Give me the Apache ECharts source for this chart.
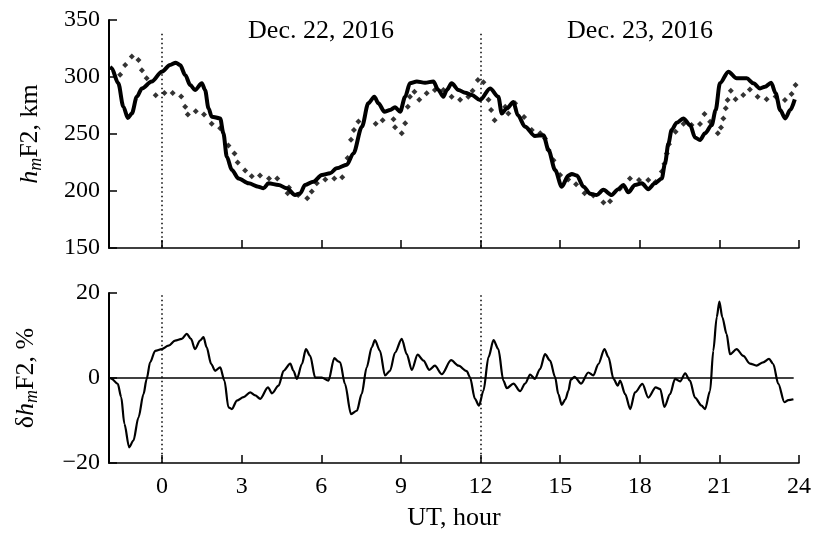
<!DOCTYPE html>
<html>
<head>
<meta charset="utf-8">
<script src="https://cdn.jsdelivr.net/npm/echarts@6/dist/echarts.min.js"></script>
<style>
	html, body { margin: 0; padding: 0; background: #fff; }
	#chart { width: 814px; height: 534px; }
</style>
</head>
<body>
<div id="chart"></div>
<script>
// ************************ data ************************
// hour (UT) from the start of Dec. 22; hmF2 in km, observed (solid)
var hmSolid = [
	[-1.96, 309], [-1.90, 307.6], [-1.65, 294.5], [-1.46, 274], [-1.29, 264], [-1.14, 268],
	[-0.95, 282.7], [-0.76, 290], [-0.39, 296], [-0.01, 304.7], [0.30, 310.5], [0.52, 312.6],
	[0.68, 310.5], [0.87, 301.8], [1.06, 293], [1.24, 288.6], [1.50, 294.5], [1.62, 288.6],
	[1.75, 272.5], [1.87, 265.2], [2.19, 263.7], [2.31, 250.6], [2.44, 230], [2.63, 218.4],
	[2.88, 211], [3.26, 206.7], [3.63, 203.8], [3.82, 202.4], [4.01, 206.7], [4.39, 205.3],
	[4.70, 202.4], [5.01, 196.5], [5.20, 197.9], [5.39, 205.3], [5.70, 208.2], [6.02, 214],
	[6.33, 215.5], [6.58, 220], [6.96, 223], [7.21, 233], [7.53, 256.4], [7.77, 276.9],
	[8.00, 282.7], [8.15, 276.9], [8.38, 269.6], [8.59, 271], [8.78, 273.4], [8.97, 269.6],
	[9.16, 282.7], [9.34, 294.5], [9.60, 296], [9.91, 295], [10.22, 296], [10.41, 288.6],
	[10.60, 282.7], [10.73, 288.6], [10.91, 294.5], [11.17, 288.6], [11.42, 286.2], [11.67, 284.2],
	[11.98, 279.8], [12.36, 290], [12.67, 282.7], [12.80, 268], [12.99, 272.5], [13.24, 278],
	[13.40, 266.7], [13.68, 256.4], [14.05, 248.2], [14.37, 249], [14.56, 236], [14.81, 218.4],
	[15.06, 203.8], [15.31, 213.5], [15.44, 215], [15.63, 213.5], [15.88, 203.8], [16.13, 197.6],
	[16.38, 196.5], [16.63, 201], [16.94, 196.5], [17.19, 201.6], [17.38, 205.3], [17.57, 198.8],
	[17.82, 205.3], [18.08, 206.7], [18.32, 201.6], [18.57, 206.7], [18.83, 211], [18.95, 224.2],
	[19.08, 241.7], [19.20, 253.5], [19.39, 259.8], [19.64, 263.7], [19.90, 257.8], [20.08, 247],
	[20.27, 244.7], [20.46, 250.6], [20.71, 257.8], [20.86, 271], [21.02, 294.5], [21.34, 304.7],
	[21.65, 298.8], [22.03, 298.8], [22.28, 294.5], [22.53, 290], [22.72, 291.5], [22.95, 295],
	[23.12, 285.7], [23.29, 271], [23.48, 263.7], [23.67, 271], [23.84, 280.4]
];
// hmF2 in km, model (dots)
var hmDots = [
	[-1.58, 302], [-1.39, 310.5], [-1.14, 318], [-0.89, 315], [-0.76, 306], [-0.58, 299],
	[-0.24, 284], [0.09, 286], [0.40, 286], [0.72, 283], [0.87, 274], [0.97, 267],
	[1.27, 270], [1.58, 267], [1.87, 259], [2.19, 255], [2.50, 240], [2.73, 233],
	[2.85, 225], [3.13, 218], [3.38, 213], [3.69, 213.5], [4.03, 211], [4.34, 211],
	[4.73, 198], [4.78, 203], [5.13, 196.5], [5.47, 193.6], [5.64, 199.5], [5.83, 206.7],
	[6.15, 210], [6.49, 211], [6.79, 212], [6.99, 229], [7.12, 245], [7.23, 253.5],
	[7.40, 261], [8.05, 259], [8.31, 262], [8.72, 263], [8.78, 256], [9.03, 250.6],
	[9.16, 259.4], [9.26, 274], [9.34, 282.7], [9.51, 287], [9.69, 280], [9.97, 285.7],
	[10.28, 288.6], [10.60, 288.6], [10.91, 282.7], [11.23, 280], [11.54, 282.7], [11.70, 288],
	[11.90, 297.4], [12.11, 295.3], [12.30, 280], [12.40, 271], [12.53, 262], [12.93, 274],
	[13.05, 268], [13.30, 277], [13.64, 265], [13.93, 253.5], [14.25, 250.6], [14.43, 246],
	[14.56, 236], [14.75, 227], [15.00, 214], [15.30, 210], [15.60, 206], [15.92, 198],
	[16.25, 196], [16.63, 190], [16.88, 191], [17.25, 202], [17.63, 211], [17.97, 209.6],
	[18.32, 209.6], [18.60, 208], [18.83, 217], [18.93, 224], [19.02, 233], [19.10, 241],
	[19.35, 252], [19.65, 259], [19.95, 258], [20.27, 258.8], [20.44, 267.6], [20.65, 260.8],
	[20.94, 250.6], [21.06, 255.8], [21.15, 263.7], [21.24, 272.5], [21.31, 279.8], [21.43, 287.9],
	[21.61, 280.4], [21.90, 284.2], [22.15, 289], [22.44, 282.7], [22.78, 280.4], [23.12, 283],
	[23.47, 279.8], [23.72, 285], [23.87, 293]
];
// deviation dhmF2 in %
var dhm = [
	[-1.96, 0], [-1.90, -0.2], [-1.67, -1.4], [-1.54, -4.5], [-1.42, -10.8], [-1.24, -16.3],
	[-1.08, -14.7], [-0.89, -9.3], [-0.70, -3.8], [-0.58, -0.2], [-0.45, 3.7], [-0.26, 6.4],
	[-0.01, 6.8], [0.24, 7.6], [0.49, 8.8], [0.74, 9.2], [0.93, 10.4], [1.09, 9.2],
	[1.24, 6.8], [1.43, 8.8], [1.56, 9.6], [1.68, 7.2], [1.85, 3.3], [2.00, 1.7],
	[2.19, 2.5], [2.35, -0.6], [2.50, -6.9], [2.63, -7.3], [2.82, -5.3], [3.07, -4.5],
	[3.32, -3.4], [3.51, -4.1], [3.70, -4.9], [3.99, -2.2], [4.14, -3.6], [4.39, -1.8],
	[4.58, 1.7], [4.83, 3.4], [4.95, 1.7], [5.08, -0.2], [5.27, 3.3], [5.42, 6.8],
	[5.58, 5.2], [5.77, 0.1], [6.02, 0.1], [6.27, -0.6], [6.49, 4.7], [6.64, 3.9],
	[6.71, 3.7], [6.89, -1.4], [7.12, -8.5], [7.34, -7.7], [7.52, -3.8], [7.71, 2.5],
	[7.90, 7.2], [8.02, 8.9], [8.21, 6.4], [8.40, 0.6], [8.59, 1.7], [8.78, 6.0],
	[9.03, 9.2], [9.22, 5.6], [9.41, 1.9], [9.63, 5.5], [9.85, 4.1], [10.07, 1.9],
	[10.28, 2.9], [10.54, 0.9], [10.89, 4.2], [11.17, 2.9], [11.48, 1.6], [11.60, 0.2],
	[11.79, -4.9], [11.94, -6.5], [12.11, -3.0], [12.30, 4.9], [12.49, 8.9], [12.67, 6.8],
	[12.86, -0.6], [12.99, -2.4], [13.24, -1.3], [13.49, -3.1], [13.68, -1.3], [13.87, 0.8],
	[14.05, -0.2], [14.24, 2.1], [14.43, 5.6], [14.62, 4.1], [14.81, 0.2], [14.93, -3.8],
	[15.06, -6.3], [15.20, -5.0], [15.31, -3.0], [15.40, -0.4], [15.54, 0.3], [15.79, -1.3],
	[16.06, 1.3], [16.25, 0.6], [16.44, 3.3], [16.67, 6.8], [16.82, 4.9], [17.01, -0.2],
	[17.17, -1.8], [17.26, -0.6], [17.45, -3.8], [17.64, -7.3], [17.82, -3.4], [18.10, -1.4],
	[18.32, -4.6], [18.60, -2.2], [18.77, -2.6], [18.93, -6.8], [19.14, -3.8], [19.33, -0.2],
	[19.52, -0.8], [19.71, 1.1], [19.89, -0.6], [20.08, -4.6], [20.33, -6.5], [20.46, -7.3],
	[20.65, -3.0], [20.77, 6.4], [20.90, 14.3], [21.00, 18.0], [21.11, 14.3], [21.27, 10.4],
	[21.40, 5.6], [21.65, 6.8], [21.90, 5.2], [22.15, 3.4], [22.40, 2.9], [22.65, 3.7],
	[22.87, 4.5], [23.03, 3.3], [23.22, -1.4], [23.45, -5.7], [23.60, -5.2], [23.79, -5.0]
];
var xTicks = [0, 3, 6, 9, 12, 15, 18, 21, 24];
var dayMarks = [0, 12];
var dayLabels = ['Dec. 22, 2016', 'Dec. 23, 2016'];
// ************************ chart ************************
var FONT = 'Liberation Serif';
var black = '#000';
var X0 = -2, X1 = 24;

function nameRich(size) {
	return {
		n: { fontFamily: FONT, fontSize: size, color: black, lineHeight: 30, verticalAlign: 'middle' },
		i: { fontFamily: FONT, fontSize: size, color: black, fontStyle: 'italic', lineHeight: 30, verticalAlign: 'middle' },
		s: { fontFamily: FONT, fontSize: 18, color: black, fontStyle: 'italic', lineHeight: 18, verticalAlign: 'bottom' }
	};
}

function xAxisCfg(idx, withLabels) {
	var ax = {
		gridIndex: idx,
		type: 'value',
		min: X0,
		max: X1,
		axisLine: { onZero: false, lineStyle: { color: black, width: 1.5 } },
		axisTick: { inside: true, length: 8, customValues: xTicks, lineStyle: { color: black, width: 1.5 } },
		axisLabel: { show: withLabels, customValues: xTicks, fontFamily: FONT, fontSize: 24, color: black, margin: 12 },
		splitLine: { show: false }
	};
	if (withLabels) {
		ax.name = 'UT, hour';
		ax.nameLocation = 'middle';
		ax.nameGap = 42;
		ax.nameTextStyle = { fontFamily: FONT, fontSize: 26, color: black };
	}
	return ax;
}

function yAxisCfg(idx, mn, mx, step, name, gap) {
	return {
		gridIndex: idx,
		type: 'value',
		min: mn,
		max: mx,
		interval: step,
		axisLine: { show: true, onZero: false, lineStyle: { color: black, width: 2 } },
		axisTick: { inside: true, length: 8, lineStyle: { color: black, width: 1.5 } },
		axisLabel: {
			fontFamily: FONT, fontSize: 24, color: black, margin: 9,
			formatter: function(v) { return String(v).replace('-', '\u2212'); }
		},
		splitLine: { show: false },
		name: name,
		nameLocation: 'middle',
		nameRotate: 90,
		nameGap: gap,
		nameTextStyle: { rich: nameRich(26) }
	};
}

var solidLine = { type: 'solid', width: 1.5, color: black };

// dotted day separators, drawn in data coords
function dayLines(top, bottom) {
	return dayMarks.map(function(h) {
		return [{ coord: [h, top] }, { coord: [h, bottom] }];
	});
}

var dotted = { color: black, width: 1.5, type: [1.5, 3] };

var option = {
	animation: false,
	backgroundColor: '#fff',
	grid: [
		{ left: 109, right: 15, top: 20, height: 228 },
		{ left: 109, right: 15, top: 293, height: 170 }
	],
	xAxis: [xAxisCfg(0, false), xAxisCfg(1, true)],
	yAxis: [
		yAxisCfg(0, 150, 350, 50, '{i|h}{s|m}{n|F2, km}', 64),
		yAxisCfg(1, -20, 20, 20, '{n|\u03b4}{i|h}{s|m}{n|F2, %}', 68)
	],
	graphic: dayLabels.map(function(t, k) {
		return {
			type: 'text',
			x: k === 0 ? 321 : 640,
			y: 31,
			style: { text: t, fontFamily: FONT, fontSize: 26, fill: black, align: 'center', verticalAlign: 'middle' }
		};
	}),
	series: [{
		name: 'hmF2 dots',
		type: 'scatter',
		xAxisIndex: 0,
		yAxisIndex: 0,
		symbol: 'diamond',
		symbolSize: 6,
		itemStyle: { color: black },
		data: hmDots
	}, {
		name: 'hmF2',
		type: 'line',
		xAxisIndex: 0,
		yAxisIndex: 0,
		showSymbol: false,
		smooth: 0.3,
		smoothMonotone: 'x',
		lineStyle: { color: black, width: 4 },
		data: hmSolid,
		markLine: {
			silent: true,
			symbol: 'none',
			label: { show: false },
			lineStyle: dotted,
			data: dayLines(338, 150)
		}
	}, {
		name: 'dhmF2',
		type: 'line',
		xAxisIndex: 1,
		yAxisIndex: 1,
		showSymbol: false,
		smooth: 0.3,
		smoothMonotone: 'x',
		lineStyle: { color: black, width: 2.2 },
		data: dhm,
		markLine: {
			silent: true,
			symbol: 'none',
			label: { show: false },
			lineStyle: dotted,
			data: dayLines(19.5, -20).concat([[
				{ coord: [X0, 0], lineStyle: solidLine },
				{ coord: [23.8, 0] }
			]])
		}
	}]
};

var chart = echarts.init(document.getElementById('chart'));
chart.setOption(option);
</script>
</body>
</html>
